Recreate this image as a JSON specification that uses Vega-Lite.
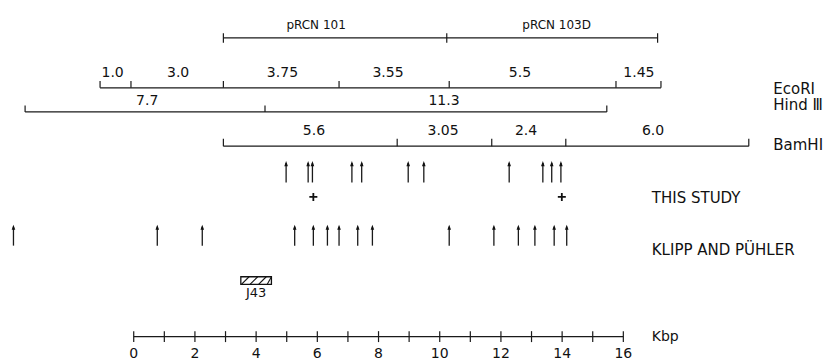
{
  "$schema": "https://vega.github.io/schema/vega-lite/v6.json",
  "width": 836,
  "height": 361,
  "autosize": {"type": "fit", "contains": "padding"},
  "padding": 0,
  "background": "white",
  "config": {"view": {"stroke": null}, "font": "DejaVu Sans"},
  "datasets": {
    "maps": [
      {"track": "pRCN", "start": 2.93, "end": 17.12},
      {"track": "EcoRI", "start": -1.1, "end": 17.23},
      {"track": "HindIII", "start": -3.55, "end": 15.46},
      {"track": "BamHI", "start": 2.93, "end": 20.1},
      {"track": "scale", "start": 0, "end": 16}
    ],
    "sites": [
      {"track": "pRCN", "kb": 2.93}, {"track": "pRCN", "kb": 10.23}, {"track": "pRCN", "kb": 17.12},
      {"track": "EcoRI", "kb": -1.1}, {"track": "EcoRI", "kb": -0.09}, {"track": "EcoRI", "kb": 2.93},
      {"track": "EcoRI", "kb": 6.71}, {"track": "EcoRI", "kb": 10.31}, {"track": "EcoRI", "kb": 15.76},
      {"track": "EcoRI", "kb": 17.23},
      {"track": "HindIII", "kb": -3.55}, {"track": "HindIII", "kb": 4.29}, {"track": "HindIII", "kb": 15.46},
      {"track": "BamHI", "kb": 2.93}, {"track": "BamHI", "kb": 8.61}, {"track": "BamHI", "kb": 11.7},
      {"track": "BamHI", "kb": 14.12}, {"track": "BamHI", "kb": 20.1},
      {"track": "scale", "kb": 0}, {"track": "scale", "kb": 1}, {"track": "scale", "kb": 2},
      {"track": "scale", "kb": 3}, {"track": "scale", "kb": 4}, {"track": "scale", "kb": 5},
      {"track": "scale", "kb": 6}, {"track": "scale", "kb": 7}, {"track": "scale", "kb": 8},
      {"track": "scale", "kb": 9}, {"track": "scale", "kb": 10}, {"track": "scale", "kb": 11},
      {"track": "scale", "kb": 12}, {"track": "scale", "kb": 13}, {"track": "scale", "kb": 14},
      {"track": "scale", "kb": 15}, {"track": "scale", "kb": 16}
    ],
    "fragments": [
      {"track": "pRCN", "label": "pRCN 101", "kb": 5.96},
      {"track": "pRCN", "label": "pRCN 103D", "kb": 13.82},
      {"track": "EcoRI", "label": "1.0", "kb": -0.69},
      {"track": "EcoRI", "label": "3.0", "kb": 1.45},
      {"track": "EcoRI", "label": "3.75", "kb": 4.86},
      {"track": "EcoRI", "label": "3.55", "kb": 8.31},
      {"track": "EcoRI", "label": "5.5", "kb": 12.62},
      {"track": "EcoRI", "label": "1.45", "kb": 16.51},
      {"track": "HindIII", "label": "7.7", "kb": 0.44},
      {"track": "HindIII", "label": "11.3", "kb": 10.14},
      {"track": "BamHI", "label": "5.6", "kb": 5.89},
      {"track": "BamHI", "label": "3.05", "kb": 10.11},
      {"track": "BamHI", "label": "2.4", "kb": 12.82},
      {"track": "BamHI", "label": "6.0", "kb": 16.97},
      {"track": "scale", "label": "0", "kb": 0},
      {"track": "scale", "label": "2", "kb": 2},
      {"track": "scale", "label": "4", "kb": 4},
      {"track": "scale", "label": "6", "kb": 6},
      {"track": "scale", "label": "8", "kb": 8},
      {"track": "scale", "label": "10", "kb": 10},
      {"track": "scale", "label": "12", "kb": 12},
      {"track": "scale", "label": "14", "kb": 14},
      {"track": "scale", "label": "16", "kb": 16}
    ],
    "names": [
      {"track": "EcoRI", "label": "EcoRI", "kb": 20.9},
      {"track": "HindIII", "label": "Hind Ⅲ", "kb": 20.9},
      {"track": "BamHI", "label": "BamHI", "kb": 20.9},
      {"track": "this", "label": "THIS STUDY", "kb": 16.93},
      {"track": "klipp", "label": "KLIPP AND PÜHLER", "kb": 16.93},
      {"track": "scale", "label": "Kbp", "kb": 16.93}
    ],
    "arrows": [
      {"set": "this", "kb": 4.98}, {"set": "this", "kb": 5.7}, {"set": "this", "kb": 5.84},
      {"set": "this", "kb": 7.13}, {"set": "this", "kb": 7.45}, {"set": "this", "kb": 8.97},
      {"set": "this", "kb": 9.48}, {"set": "this", "kb": 12.27}, {"set": "this", "kb": 13.37},
      {"set": "this", "kb": 13.66}, {"set": "this", "kb": 13.96},
      {"set": "klipp", "kb": -3.93}, {"set": "klipp", "kb": 0.77}, {"set": "klipp", "kb": 2.24},
      {"set": "klipp", "kb": 5.26}, {"set": "klipp", "kb": 5.87}, {"set": "klipp", "kb": 6.33},
      {"set": "klipp", "kb": 6.71}, {"set": "klipp", "kb": 7.32}, {"set": "klipp", "kb": 7.8},
      {"set": "klipp", "kb": 10.31}, {"set": "klipp", "kb": 11.77}, {"set": "klipp", "kb": 12.57},
      {"set": "klipp", "kb": 13.11}, {"set": "klipp", "kb": 13.74}, {"set": "klipp", "kb": 14.15}
    ],
    "plus": [{"kb": 5.87}, {"kb": 13.99}],
    "insert": [{"name": "J43", "start": 3.5, "end": 4.5, "center": 4.0}],
    "hatch": [
      {"from": 3.52, "to": 3.77},
      {"from": 3.8, "to": 4.05},
      {"from": 4.08, "to": 4.33},
      {"from": 4.36, "to": 4.5}
    ]
  },
  "layer": [
    {"data": {"name": "maps"}, "transform": [{"filter": "datum.track === 'pRCN'"}],
     "mark": {"type": "rule", "color": "#1a1a1a", "strokeWidth": 1.2},
     "encoding": {"x": {"field": "start", "type": "quantitative", "scale": {"domain": [-4.37, 22.95], "nice": false, "zero": false}, "axis": null},
       "x2": {"field": "end"},
       "y": {"datum": 38, "type": "quantitative", "scale": {"domain": [0, 361], "reverse": true, "nice": false, "zero": false}, "axis": null}}},
    {"data": {"name": "maps"}, "transform": [{"filter": "datum.track === 'EcoRI'"}],
     "mark": {"type": "rule", "color": "#1a1a1a", "strokeWidth": 1.2},
     "encoding": {"x": {"field": "start", "type": "quantitative", "scale": {"domain": [-4.37, 22.95], "nice": false, "zero": false}, "axis": null},
       "x2": {"field": "end"},
       "y": {"datum": 88.3, "type": "quantitative", "scale": {"domain": [0, 361], "reverse": true, "nice": false, "zero": false}, "axis": null}}},
    {"data": {"name": "maps"}, "transform": [{"filter": "datum.track === 'HindIII'"}],
     "mark": {"type": "rule", "color": "#1a1a1a", "strokeWidth": 1.2},
     "encoding": {"x": {"field": "start", "type": "quantitative", "scale": {"domain": [-4.37, 22.95], "nice": false, "zero": false}, "axis": null},
       "x2": {"field": "end"},
       "y": {"datum": 112.5, "type": "quantitative", "scale": {"domain": [0, 361], "reverse": true, "nice": false, "zero": false}, "axis": null}}},
    {"data": {"name": "maps"}, "transform": [{"filter": "datum.track === 'BamHI'"}],
     "mark": {"type": "rule", "color": "#1a1a1a", "strokeWidth": 1.2},
     "encoding": {"x": {"field": "start", "type": "quantitative", "scale": {"domain": [-4.37, 22.95], "nice": false, "zero": false}, "axis": null},
       "x2": {"field": "end"},
       "y": {"datum": 147, "type": "quantitative", "scale": {"domain": [0, 361], "reverse": true, "nice": false, "zero": false}, "axis": null}}},
    {"data": {"name": "maps"}, "transform": [{"filter": "datum.track === 'scale'"}],
     "mark": {"type": "rule", "color": "#1a1a1a", "strokeWidth": 1.2},
     "encoding": {"x": {"field": "start", "type": "quantitative", "scale": {"domain": [-4.37, 22.95], "nice": false, "zero": false}, "axis": null},
       "x2": {"field": "end"},
       "y": {"datum": 338.5, "type": "quantitative", "scale": {"domain": [0, 361], "reverse": true, "nice": false, "zero": false}, "axis": null}}},

    {"data": {"name": "sites"}, "transform": [{"filter": "datum.track === 'pRCN'"}],
     "mark": {"type": "rule", "color": "#1a1a1a", "strokeWidth": 1.2},
     "encoding": {"x": {"field": "kb", "type": "quantitative", "scale": {"domain": [-4.37, 22.95], "nice": false, "zero": false}, "axis": null},
       "y": {"datum": 33.5, "type": "quantitative", "scale": {"domain": [0, 361], "reverse": true, "nice": false, "zero": false}, "axis": null},
       "y2": {"datum": 43}}},
    {"data": {"name": "sites"}, "transform": [{"filter": "datum.track === 'EcoRI'"}],
     "mark": {"type": "rule", "color": "#1a1a1a", "strokeWidth": 1.2},
     "encoding": {"x": {"field": "kb", "type": "quantitative", "scale": {"domain": [-4.37, 22.95], "nice": false, "zero": false}, "axis": null},
       "y": {"datum": 81.5, "type": "quantitative", "scale": {"domain": [0, 361], "reverse": true, "nice": false, "zero": false}, "axis": null},
       "y2": {"datum": 88.3}}},
    {"data": {"name": "sites"}, "transform": [{"filter": "datum.track === 'HindIII'"}],
     "mark": {"type": "rule", "color": "#1a1a1a", "strokeWidth": 1.2},
     "encoding": {"x": {"field": "kb", "type": "quantitative", "scale": {"domain": [-4.37, 22.95], "nice": false, "zero": false}, "axis": null},
       "y": {"datum": 106, "type": "quantitative", "scale": {"domain": [0, 361], "reverse": true, "nice": false, "zero": false}, "axis": null},
       "y2": {"datum": 112.5}}},
    {"data": {"name": "sites"}, "transform": [{"filter": "datum.track === 'BamHI'"}],
     "mark": {"type": "rule", "color": "#1a1a1a", "strokeWidth": 1.2},
     "encoding": {"x": {"field": "kb", "type": "quantitative", "scale": {"domain": [-4.37, 22.95], "nice": false, "zero": false}, "axis": null},
       "y": {"datum": 139.5, "type": "quantitative", "scale": {"domain": [0, 361], "reverse": true, "nice": false, "zero": false}, "axis": null},
       "y2": {"datum": 147}}},
    {"data": {"name": "sites"}, "transform": [{"filter": "datum.track === 'scale'"}],
     "mark": {"type": "rule", "color": "#1a1a1a", "strokeWidth": 1.2},
     "encoding": {"x": {"field": "kb", "type": "quantitative", "scale": {"domain": [-4.37, 22.95], "nice": false, "zero": false}, "axis": null},
       "y": {"datum": 333, "type": "quantitative", "scale": {"domain": [0, 361], "reverse": true, "nice": false, "zero": false}, "axis": null},
       "y2": {"datum": 344}}},

    {"data": {"name": "fragments"}, "transform": [{"filter": "datum.track === 'pRCN'"}],
     "mark": {"type": "text", "fontSize": 12, "align": "center", "baseline": "middle", "color": "#111"},
     "encoding": {"x": {"field": "kb", "type": "quantitative", "scale": {"domain": [-4.37, 22.95], "nice": false, "zero": false}, "axis": null},
       "y": {"datum": 25.5, "type": "quantitative", "scale": {"domain": [0, 361], "reverse": true, "nice": false, "zero": false}, "axis": null},
       "text": {"field": "label"}}},
    {"data": {"name": "fragments"}, "transform": [{"filter": "datum.track === 'EcoRI'"}],
     "mark": {"type": "text", "fontSize": 14, "align": "center", "baseline": "middle", "color": "#111"},
     "encoding": {"x": {"field": "kb", "type": "quantitative", "scale": {"domain": [-4.37, 22.95], "nice": false, "zero": false}, "axis": null},
       "y": {"datum": 73, "type": "quantitative", "scale": {"domain": [0, 361], "reverse": true, "nice": false, "zero": false}, "axis": null},
       "text": {"field": "label"}}},
    {"data": {"name": "fragments"}, "transform": [{"filter": "datum.track === 'HindIII'"}],
     "mark": {"type": "text", "fontSize": 14, "align": "center", "baseline": "middle", "color": "#111"},
     "encoding": {"x": {"field": "kb", "type": "quantitative", "scale": {"domain": [-4.37, 22.95], "nice": false, "zero": false}, "axis": null},
       "y": {"datum": 102, "type": "quantitative", "scale": {"domain": [0, 361], "reverse": true, "nice": false, "zero": false}, "axis": null},
       "text": {"field": "label"}}},
    {"data": {"name": "fragments"}, "transform": [{"filter": "datum.track === 'BamHI'"}],
     "mark": {"type": "text", "fontSize": 14, "align": "center", "baseline": "middle", "color": "#111"},
     "encoding": {"x": {"field": "kb", "type": "quantitative", "scale": {"domain": [-4.37, 22.95], "nice": false, "zero": false}, "axis": null},
       "y": {"datum": 132, "type": "quantitative", "scale": {"domain": [0, 361], "reverse": true, "nice": false, "zero": false}, "axis": null},
       "text": {"field": "label"}}},
    {"data": {"name": "fragments"}, "transform": [{"filter": "datum.track === 'scale'"}],
     "mark": {"type": "text", "fontSize": 14, "align": "center", "baseline": "middle", "color": "#111"},
     "encoding": {"x": {"field": "kb", "type": "quantitative", "scale": {"domain": [-4.37, 22.95], "nice": false, "zero": false}, "axis": null},
       "y": {"datum": 355.5, "type": "quantitative", "scale": {"domain": [0, 361], "reverse": true, "nice": false, "zero": false}, "axis": null},
       "text": {"field": "label"}}},

    {"data": {"name": "names"}, "transform": [{"filter": "datum.track === 'EcoRI'"}],
     "mark": {"type": "text", "fontSize": 15, "align": "left", "baseline": "middle", "color": "#111"},
     "encoding": {"x": {"field": "kb", "type": "quantitative", "scale": {"domain": [-4.37, 22.95], "nice": false, "zero": false}, "axis": null},
       "y": {"datum": 89, "type": "quantitative", "scale": {"domain": [0, 361], "reverse": true, "nice": false, "zero": false}, "axis": null},
       "text": {"field": "label"}}},
    {"data": {"name": "names"}, "transform": [{"filter": "datum.track === 'HindIII'"}],
     "mark": {"type": "text", "fontSize": 15, "align": "left", "baseline": "middle", "color": "#111"},
     "encoding": {"x": {"field": "kb", "type": "quantitative", "scale": {"domain": [-4.37, 22.95], "nice": false, "zero": false}, "axis": null},
       "y": {"datum": 106, "type": "quantitative", "scale": {"domain": [0, 361], "reverse": true, "nice": false, "zero": false}, "axis": null},
       "text": {"field": "label"}}},
    {"data": {"name": "names"}, "transform": [{"filter": "datum.track === 'BamHI'"}],
     "mark": {"type": "text", "fontSize": 15, "align": "left", "baseline": "middle", "color": "#111"},
     "encoding": {"x": {"field": "kb", "type": "quantitative", "scale": {"domain": [-4.37, 22.95], "nice": false, "zero": false}, "axis": null},
       "y": {"datum": 146, "type": "quantitative", "scale": {"domain": [0, 361], "reverse": true, "nice": false, "zero": false}, "axis": null},
       "text": {"field": "label"}}},
    {"data": {"name": "names"}, "transform": [{"filter": "datum.track === 'this'"}],
     "mark": {"type": "text", "fontSize": 15, "align": "left", "baseline": "middle", "color": "#111"},
     "encoding": {"x": {"field": "kb", "type": "quantitative", "scale": {"domain": [-4.37, 22.95], "nice": false, "zero": false}, "axis": null},
       "y": {"datum": 199, "type": "quantitative", "scale": {"domain": [0, 361], "reverse": true, "nice": false, "zero": false}, "axis": null},
       "text": {"field": "label"}}},
    {"data": {"name": "names"}, "transform": [{"filter": "datum.track === 'klipp'"}],
     "mark": {"type": "text", "fontSize": 15, "align": "left", "baseline": "middle", "color": "#111"},
     "encoding": {"x": {"field": "kb", "type": "quantitative", "scale": {"domain": [-4.37, 22.95], "nice": false, "zero": false}, "axis": null},
       "y": {"datum": 251, "type": "quantitative", "scale": {"domain": [0, 361], "reverse": true, "nice": false, "zero": false}, "axis": null},
       "text": {"field": "label"}}},
    {"data": {"name": "names"}, "transform": [{"filter": "datum.track === 'scale'"}],
     "mark": {"type": "text", "fontSize": 14, "align": "left", "baseline": "middle", "color": "#111"},
     "encoding": {"x": {"field": "kb", "type": "quantitative", "scale": {"domain": [-4.37, 22.95], "nice": false, "zero": false}, "axis": null},
       "y": {"datum": 338.5, "type": "quantitative", "scale": {"domain": [0, 361], "reverse": true, "nice": false, "zero": false}, "axis": null},
       "text": {"field": "label"}}},

    {"data": {"name": "arrows"}, "transform": [{"filter": "datum.set === 'this'"}],
     "mark": {"type": "rule", "color": "#1a1a1a", "strokeWidth": 1.3},
     "encoding": {"x": {"field": "kb", "type": "quantitative", "scale": {"domain": [-4.37, 22.95], "nice": false, "zero": false}, "axis": null},
       "y": {"datum": 164, "type": "quantitative", "scale": {"domain": [0, 361], "reverse": true, "nice": false, "zero": false}, "axis": null},
       "y2": {"datum": 183.5}}},
    {"data": {"name": "arrows"}, "transform": [{"filter": "datum.set === 'this'"}],
     "mark": {"type": "point", "shape": "M0,-1L0.6,0.7L-0.6,0.7Z", "size": 36, "filled": true, "color": "#111", "opacity": 1},
     "encoding": {"x": {"field": "kb", "type": "quantitative", "scale": {"domain": [-4.37, 22.95], "nice": false, "zero": false}, "axis": null},
       "y": {"datum": 165, "type": "quantitative", "scale": {"domain": [0, 361], "reverse": true, "nice": false, "zero": false}, "axis": null}}},
    {"data": {"name": "arrows"}, "transform": [{"filter": "datum.set === 'klipp'"}],
     "mark": {"type": "rule", "color": "#1a1a1a", "strokeWidth": 1.3},
     "encoding": {"x": {"field": "kb", "type": "quantitative", "scale": {"domain": [-4.37, 22.95], "nice": false, "zero": false}, "axis": null},
       "y": {"datum": 228, "type": "quantitative", "scale": {"domain": [0, 361], "reverse": true, "nice": false, "zero": false}, "axis": null},
       "y2": {"datum": 247}}},
    {"data": {"name": "arrows"}, "transform": [{"filter": "datum.set === 'klipp'"}],
     "mark": {"type": "point", "shape": "M0,-1L0.6,0.7L-0.6,0.7Z", "size": 36, "filled": true, "color": "#111", "opacity": 1},
     "encoding": {"x": {"field": "kb", "type": "quantitative", "scale": {"domain": [-4.37, 22.95], "nice": false, "zero": false}, "axis": null},
       "y": {"datum": 229, "type": "quantitative", "scale": {"domain": [0, 361], "reverse": true, "nice": false, "zero": false}, "axis": null}}},
    {"data": {"name": "plus"},
     "mark": {"type": "point", "shape": "M-1,0L1,0M0,-1L0,1", "size": 64, "filled": false, "color": "#111", "strokeWidth": 1.8, "opacity": 1},
     "encoding": {"x": {"field": "kb", "type": "quantitative", "scale": {"domain": [-4.37, 22.95], "nice": false, "zero": false}, "axis": null},
       "y": {"datum": 198, "type": "quantitative", "scale": {"domain": [0, 361], "reverse": true, "nice": false, "zero": false}, "axis": null}}},

    {"data": {"name": "insert"},
     "mark": {"type": "rect", "fill": "white", "stroke": "#111", "strokeWidth": 1.3},
     "encoding": {"x": {"field": "start", "type": "quantitative", "scale": {"domain": [-4.37, 22.95], "nice": false, "zero": false}, "axis": null},
       "x2": {"field": "end"},
       "y": {"datum": 278.3, "type": "quantitative", "scale": {"domain": [0, 361], "reverse": true, "nice": false, "zero": false}, "axis": null},
       "y2": {"datum": 286}}},
    {"data": {"name": "hatch"},
     "mark": {"type": "rule", "color": "#111", "strokeWidth": 1.1},
     "encoding": {"x": {"field": "from", "type": "quantitative", "scale": {"domain": [-4.37, 22.95], "nice": false, "zero": false}, "axis": null},
       "x2": {"field": "to"},
       "y": {"datum": 286, "type": "quantitative", "scale": {"domain": [0, 361], "reverse": true, "nice": false, "zero": false}, "axis": null},
       "y2": {"datum": 278.3}}},
    {"data": {"name": "insert"},
     "mark": {"type": "text", "fontSize": 13, "align": "center", "baseline": "middle", "color": "#111"},
     "encoding": {"x": {"field": "center", "type": "quantitative", "scale": {"domain": [-4.37, 22.95], "nice": false, "zero": false}, "axis": null},
       "y": {"datum": 295, "type": "quantitative", "scale": {"domain": [0, 361], "reverse": true, "nice": false, "zero": false}, "axis": null},
       "text": {"field": "name"}}}
  ]
}
